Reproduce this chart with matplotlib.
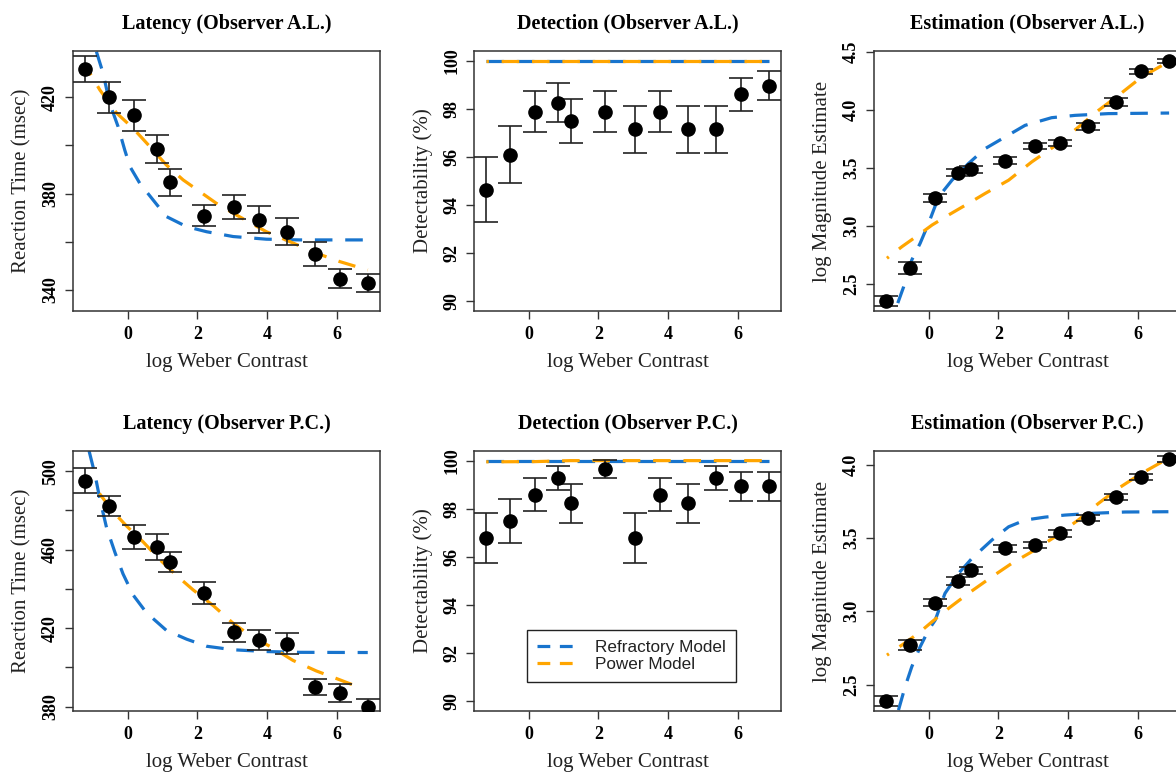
import numpy as np
import matplotlib.pyplot as plt
from matplotlib.lines import Line2D

plt.rcParams['font.family'] = ['Liberation Serif', 'DejaVu Serif']

# log Weber contrast of the 12 stimulus levels (same in every panel)
contrast = [-1.21, -0.52, 0.19, 0.84, 1.22, 2.18, 3.05, 3.77, 4.57, 5.37, 6.07, 6.88]

# ---- Latency, observer A.L.
rt_al = [431.6, 420.0, 412.5, 398.5, 384.7, 370.9, 374.4, 369.2, 364.2, 354.9, 344.7, 342.8]
rt_al_err = [5.4, 6.4, 6.4, 5.7, 5.5, 4.4, 5.0, 5.5, 5.5, 5.0, 4.0, 3.8]
rt_al_refr_x = [-0.89, -0.70, -0.51, -0.27, -0.08, 0.07, 0.35, 0.73, 1.11, 1.69, 2.26, 3.02, 3.97, 4.92, 6.87]
rt_al_refr_y = [438.9, 430.0, 417.5, 407.8, 398.1, 391.2, 384.3, 377.4, 370.5, 366.3, 364.2, 362.2, 361.1, 360.8, 360.8]
rt_al_pow_x = [-1.08, -0.79, -0.31, 0.16, 0.64, 1.11, 1.59, 2.07, 2.54, 3.02, 3.97, 4.64, 5.40, 6.07, 6.87]
rt_al_pow_y = [430.0, 423.0, 413.4, 407.1, 399.5, 391.9, 385.7, 380.8, 376.0, 371.9, 364.2, 360.1, 355.3, 351.8, 348.3]

# ---- Detection, observer A.L.
det_al = [94.63, 96.10, 97.88, 98.26, 97.48, 97.88, 97.14, 97.88, 97.14, 97.14, 98.60, 98.95]
det_al_err = [1.35, 1.18, 0.86, 0.80, 0.92, 0.86, 0.99, 0.86, 0.99, 0.99, 0.69, 0.60]
det_al_refr_x = [-1.21, 6.88]
det_al_refr_y = [100.0, 100.0]
det_al_pow_x = [-1.21, 6.88]
det_al_pow_y = [100.0, 100.0]

# ---- Estimation, observer A.L.
est_al = [2.357, 2.640, 3.236, 3.459, 3.488, 3.559, 3.688, 3.713, 3.857, 4.065, 4.331, 4.423]
est_al_err = [0.043, 0.053, 0.034, 0.030, 0.030, 0.030, 0.023, 0.030, 0.030, 0.034, 0.020, 0.017]
est_al_refr_x = [-0.88, -0.71, -0.48, -0.24, 0.00, 0.29, 0.67, 1.14, 1.62, 2.19, 2.76, 3.52, 4.19, 5.14, 6.88]
est_al_refr_y = [2.335, 2.477, 2.706, 2.850, 3.021, 3.250, 3.393, 3.536, 3.665, 3.765, 3.865, 3.931, 3.951, 3.966, 3.971]
est_al_pow_x = [-1.19, -0.76, -0.29, 0.10, 0.57, 1.14, 1.62, 2.29, 2.95, 3.71, 4.29, 4.86, 5.43, 6.09, 6.76, 6.88]
est_al_pow_y = [2.721, 2.821, 2.921, 3.007, 3.093, 3.193, 3.279, 3.393, 3.550, 3.708, 3.851, 3.994, 4.123, 4.280, 4.395, 4.420]

# ---- Latency, observer P.C.
rt_pc = [495.1, 482.2, 466.5, 461.5, 453.5, 437.8, 418.0, 413.9, 412.1, 390.1, 386.9, 379.6]
rt_pc_err = [6.4, 5.2, 6.0, 6.5, 5.1, 5.6, 4.9, 5.0, 5.5, 4.2, 4.5, 4.3]
rt_pc_refr_x = [-1.10, -0.93, -0.79, -0.60, -0.36, -0.13, 0.16, 0.54, 1.11, 1.69, 2.26, 3.02, 3.97, 4.92, 6.87]
rt_pc_refr_y = [510.3, 498.2, 485.6, 471.2, 458.6, 447.7, 436.9, 427.9, 418.9, 414.4, 410.8, 409.0, 408.1, 407.7, 407.6]
rt_pc_pow_x = [-1.08, -0.79, -0.41, -0.03, 0.45, 0.92, 1.40, 1.87, 2.45, 3.02, 3.59, 4.16, 4.73, 5.40, 6.07, 6.59]
rt_pc_pow_y = [494.6, 488.3, 479.3, 472.1, 463.9, 455.0, 446.9, 439.6, 431.5, 422.5, 415.3, 409.9, 403.6, 398.2, 393.7, 390.1]

# ---- Detection, observer P.C.
det_pc = [96.79, 97.50, 98.59, 99.28, 98.23, 99.64, 96.79, 98.59, 98.23, 99.28, 98.94, 98.94]
det_pc_err = [1.04, 0.91, 0.69, 0.49, 0.80, 0.37, 1.04, 0.69, 0.80, 0.49, 0.60, 0.60]
det_pc_refr_x = [-1.21, 6.88]
det_pc_refr_y = [100.0, 100.0]
det_pc_pow_x = [-1.21, 0.20, 0.70, 1.20, 6.88]
det_pc_pow_y = [99.95, 99.96, 99.98, 100.0, 100.0]

# ---- Estimation, observer P.C.
est_pc = [2.387, 2.770, 3.059, 3.207, 3.280, 3.431, 3.453, 3.533, 3.640, 3.781, 3.920, 4.039]
est_pc_err = [0.032, 0.032, 0.025, 0.025, 0.025, 0.022, 0.022, 0.025, 0.022, 0.022, 0.020, 0.020]
est_pc_refr_x = [-0.86, -0.67, -0.48, -0.24, 0.00, 0.19, 0.47, 0.86, 1.24, 1.81, 2.29, 2.76, 3.33, 3.90, 4.67, 5.62, 6.86]
est_pc_refr_y = [2.325, 2.485, 2.621, 2.758, 2.872, 2.940, 3.123, 3.260, 3.362, 3.487, 3.578, 3.624, 3.644, 3.658, 3.670, 3.679, 3.681]
est_pc_pow_x = [-1.19, -0.76, -0.29, 0.10, 0.57, 1.14, 1.81, 2.38, 2.95, 3.62, 4.28, 4.86, 5.43, 6.09, 6.86]
est_pc_pow_y = [2.701, 2.770, 2.850, 2.929, 3.020, 3.123, 3.236, 3.328, 3.407, 3.510, 3.624, 3.738, 3.841, 3.943, 4.046]

blue = '#1874CD'
orange = '#FFA500'
dash = (5.5, 4.0)

fig = plt.figure(figsize=(11.76, 7.73), dpi=100)

W, H = 1176, 773
def add_panel(left_px, top_px):
    return fig.add_axes([left_px / W, (H - top_px - 260) / H, 307 / W, 260 / H])


def draw(ax, title, ylabel, y, yerr, rx, ry, px, py, ylim, yticks, ytlabels):
    ax.plot(rx, ry, color=blue, lw=2.3, dashes=dash, zorder=2)
    ax.plot(px, py, color=orange, lw=2.3, linestyle=(4.75, dash), zorder=3)
    ax.errorbar(contrast, y, yerr=yerr, fmt='o', color='black', ms=9.5,
                ecolor='#222222', elinewidth=1.2, capsize=8.5, capthick=1.2, zorder=4)
    ax.set_xlim(-1.56, 7.22)
    ax.set_ylim(*ylim)
    ax.set_xticks([0, 2, 4, 6])
    ax.set_yticks(yticks)
    ax.set_yticklabels(ytlabels, rotation=90, va='center')
    for lab in ax.get_xticklabels() + ax.get_yticklabels():
        lab.set_fontweight('bold')
        lab.set_fontsize(13)
    ax.tick_params(axis='x', length=6, width=1, color='#333333', pad=5)
    ax.tick_params(axis='y', length=6, width=1, color='#333333', pad=4)
    for s in ax.spines.values():
        s.set_color('#333333')
        s.set_linewidth(1.1)
    ax.set_title(title, fontsize=14.5, fontweight='bold', pad=16)
    ax.set_xlabel('log Weber Contrast', fontsize=15, color='#222222', va='center')
    ax.set_ylabel(ylabel, fontsize=15, color='#222222', va='center', ha='center')
    ax.xaxis.set_label_coords(0.5, -52 / 260)
    ax.yaxis.set_label_coords(-51 / 307, 0.5)


rt_ticks_al = [340, 360, 380, 400, 420]
rt_labels_al = ['340', '', '380', '', '420']
rt_ticks_pc = [380, 400, 420, 440, 460, 480, 500]
rt_labels_pc = ['380', '', '420', '', '460', '', '500']
det_ticks = [90, 92, 94, 96, 98, 100]
est_ticks_al = [2.5, 3.0, 3.5, 4.0, 4.5]
est_ticks_pc = [2.5, 3.0, 3.5, 4.0]

ax1 = add_panel(73, 51)
draw(ax1, 'Latency (Observer A.L.)', 'Reaction Time (msec)', rt_al, rt_al_err,
     rt_al_refr_x, rt_al_refr_y, rt_al_pow_x, rt_al_pow_y,
     (331.3, 439.2), rt_ticks_al, rt_labels_al)

ax2 = add_panel(474, 51)
draw(ax2, 'Detection (Observer A.L.)', 'Detectability (%)', det_al, det_al_err,
     det_al_refr_x, det_al_refr_y, det_al_pow_x, det_al_pow_y,
     (89.6, 100.4), det_ticks, [str(t) for t in det_ticks])

ax3 = add_panel(874, 51)
draw(ax3, 'Estimation (Observer A.L.)', 'log Magnitude Estimate', est_al, est_al_err,
     est_al_refr_x, est_al_refr_y, est_al_pow_x, est_al_pow_y,
     (2.267, 4.505), est_ticks_al, [f'{t:.1f}' for t in est_ticks_al])

ax4 = add_panel(73, 451)
draw(ax4, 'Latency (Observer P.C.)', 'Reaction Time (msec)', rt_pc, rt_pc_err,
     rt_pc_refr_x, rt_pc_refr_y, rt_pc_pow_x, rt_pc_pow_y,
     (377.8, 510.3), rt_ticks_pc, rt_labels_pc)

ax5 = add_panel(474, 451)
draw(ax5, 'Detection (Observer P.C.)', 'Detectability (%)', det_pc, det_pc_err,
     det_pc_refr_x, det_pc_refr_y, det_pc_pow_x, det_pc_pow_y,
     (89.6, 100.4), det_ticks, [str(t) for t in det_ticks])

ax6 = add_panel(874, 451)
draw(ax6, 'Estimation (Observer P.C.)', 'log Magnitude Estimate', est_pc, est_pc_err,
     est_pc_refr_x, est_pc_refr_y, est_pc_pow_x, est_pc_pow_y,
     (2.319, 4.096), est_ticks_pc, [f'{t:.1f}' for t in est_ticks_pc])

handles = [Line2D([0], [0], color=blue, lw=2.3, dashes=(4, 3)),
           Line2D([0], [0], color=orange, lw=2.3, dashes=(4, 3))]
leg = ax5.legend(handles, ['Refractory Model', 'Power Model'], loc='center',
                 bbox_to_anchor=(0.513, 0.2115), frameon=True, fancybox=False,
                 edgecolor='#222222', framealpha=1, borderpad=0.6,
                 labelspacing=0.12, handlelength=2.4, handletextpad=1.0,
                 borderaxespad=0, prop={'family': 'Liberation Sans', 'size': 12.3})
leg.get_frame().set_linewidth(1.0)
for t in leg.get_texts():
    t.set_color('#222222')

fig.savefig('out.png', dpi=100)
